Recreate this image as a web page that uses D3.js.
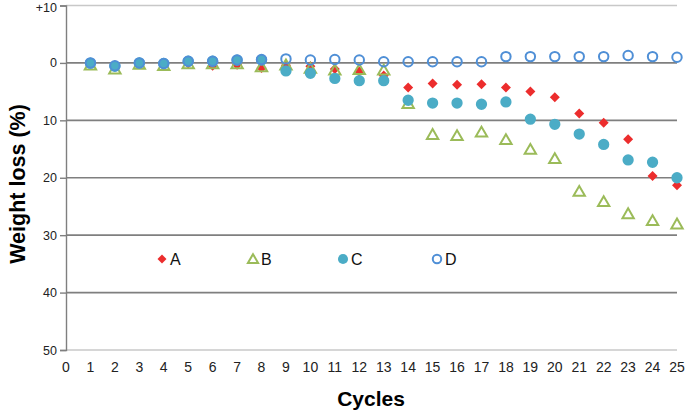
<!DOCTYPE html>
<html>
<head>
<meta charset="utf-8">
<script src="https://cdn.jsdelivr.net/npm/d3@7"></script>
<style>
  body { margin: 0; background: #fff; }
  svg { display: block; }
</style>
</head>
<body>
<svg width="685" height="414"></svg>
<script>
// Data: weight loss (%) per cycle, positive = loss
var cycles = [1,2,3,4,5,6,7,8,9,10,11,12,13,14,15,16,17,18,19,20,21,22,23,24,25];
var seriesA = [0.1,0.4,0.1,0.2,0.1,0.5,0.3,0.9,0.4,0.6,1.05,1.5,2.2,4.3,3.6,3.8,3.7,4.3,5.0,6.0,8.8,10.4,13.3,19.7,21.3];
var seriesB = [0.3,1.0,0.2,0.4,0.1,0.1,0.1,0.6,0.3,0.9,1.2,1.1,1.2,7.0,12.4,12.6,12.0,13.3,15.0,16.6,22.3,24.1,26.2,27.4,28.0];
var seriesC = [0.05,0.6,0.0,0.1,-0.3,-0.3,-0.5,-0.5,1.4,1.8,2.7,3.1,3.1,6.5,7.0,7.0,7.2,6.8,9.8,10.7,12.4,14.2,16.9,17.3,20.0];
var seriesD = [0.0,0.5,0.0,0.1,-0.3,-0.3,-0.5,-0.6,-0.7,-0.5,-0.6,-0.5,-0.2,-0.2,-0.2,-0.2,-0.2,-1.1,-1.1,-1.1,-1.1,-1.1,-1.3,-1.1,-1.0];
var seriesNames = ["A","B","C","D"];
var xTicks = d3.range(0, 26);
var yTicks = [-10, 0, 10, 20, 30, 40, 50];

var svg = d3.select("svg");

var x = d3.scaleLinear().domain([0, 25]).range([66, 677]);
var y = d3.scaleLinear().domain([-10, 50]).range([5.5, 350]);

var font = "'Liberation Sans Narrow', 'Liberation Sans', Arial, sans-serif";

// gridlines
svg.append("g")
  .selectAll("line")
  .data(yTicks)
  .enter()
  .append("line")
    .attr("x1", x(0))
    .attr("x2", x(25))
    .attr("y1", function(d){ return y(d) })
    .attr("y2", function(d){ return y(d) })
    .attr("stroke", function(d){ return (d == -10 || d == 50) ? "#c8c8c8" : "#7f7f7f" })
    .attr("stroke-width", 1.7)

// y axis
var yAxis = svg.append("g")
  .attr("transform", "translate(" + x(0) + ",0)")
  .call(d3.axisLeft(y).tickValues(yTicks).tickSize(6).tickPadding(3)
    .tickFormat(function(d){ return d < 0 ? "+" + (-d) : d }))
yAxis.select(".domain").attr("stroke", "#7f7f7f").attr("stroke-width", 1.4)
yAxis.selectAll(".tick line").attr("stroke", "#7f7f7f").attr("stroke-width", 1.4)
yAxis.selectAll("text")
  .attr("font-family", font)
  .attr("font-size", 12.5)
  .attr("fill", "#222")
  .attr("dy", function(d){ return d == -10 ? "0.5em" : "0.32em" })

// x labels
svg.append("g")
  .selectAll("text")
  .data(xTicks)
  .enter()
  .append("text")
    .attr("x", function(d){ return x(d) })
    .attr("y", 372)
    .attr("text-anchor", "middle")
    .attr("font-family", font)
    .attr("font-size", 14)
    .attr("fill", "#222")
    .text(function(d){ return d })

// axis titles
svg.append("text")
  .attr("x", 371)
  .attr("y", 406)
  .attr("text-anchor", "middle")
  .attr("font-family", "'Liberation Sans', Arial, sans-serif")
  .attr("font-weight", "bold")
  .attr("font-size", 21)
  .text("Cycles")

svg.append("text")
  .attr("transform", "translate(25,184) rotate(-90)")
  .attr("text-anchor", "middle")
  .attr("font-family", "'Liberation Sans', Arial, sans-serif")
  .attr("font-weight", "bold")
  .attr("font-size", 21.5)
  .text("Weight loss (%)")

// symbols (diamond = square rotated 45deg)
var sym = {
  A: { type: d3.symbolSquare, size: 50, rot: 45, fill: "#ec2d2d", stroke: "none", sw: 0 },
  B: { type: d3.symbolTriangle, size: 56, rot: 0, fill: "none", stroke: "#9bbb59", sw: 2 },
  C: { type: d3.symbolCircle, size: 100, rot: 0, fill: "#4bacc6", stroke: "none", sw: 0 },
  D: { type: d3.symbolCircle, size: 70, rot: 0, fill: "none", stroke: "#4f8fd6", sw: 2 }
};
var allSeries = { A: seriesA, B: seriesB, C: seriesC, D: seriesD };

seriesNames.forEach(function(name) {
  var s = sym[name];
  var shift = name == "B" ? 1.5 : 0;
  svg.append("g")
    .selectAll("path")
    .data(allSeries[name].map(function(v, i){ return { c: cycles[i], v: v } }))
    .enter()
    .append("path")
      .attr("transform", function(d){
        return "translate(" + x(d.c) + "," + (y(d.v) + shift) + ") rotate(" + s.rot + ")" })
      .attr("d", d3.symbol().type(s.type).size(s.size))
      .attr("fill", s.fill)
      .attr("stroke", s.stroke)
      .attr("stroke-width", s.sw)
});

// legend
var legendX = [162, 253, 343, 437];
var legend = svg.append("g")
  .selectAll("g")
  .data(seriesNames)
  .enter()
  .append("g")
    .attr("transform", function(d, i){ return "translate(" + legendX[i] + ",259)" })
legend.append("path")
  .attr("d", function(d){ return d3.symbol().type(sym[d].type).size(sym[d].size * 0.8)() })
  .attr("transform", function(d){
    return "translate(0," + (d == "B" ? 1 : 0) + ") rotate(" + sym[d].rot + ")" })
  .attr("fill", function(d){ return sym[d].fill })
  .attr("stroke", function(d){ return sym[d].stroke })
  .attr("stroke-width", function(d){ return sym[d].sw })
legend.append("text")
  .attr("x", 8)
  .attr("y", 6)
  .attr("font-family", "'Liberation Sans', Arial, sans-serif")
  .attr("font-size", 16)
  .attr("fill", "#111")
  .text(function(d){ return d })
</script>
</body>
</html>
